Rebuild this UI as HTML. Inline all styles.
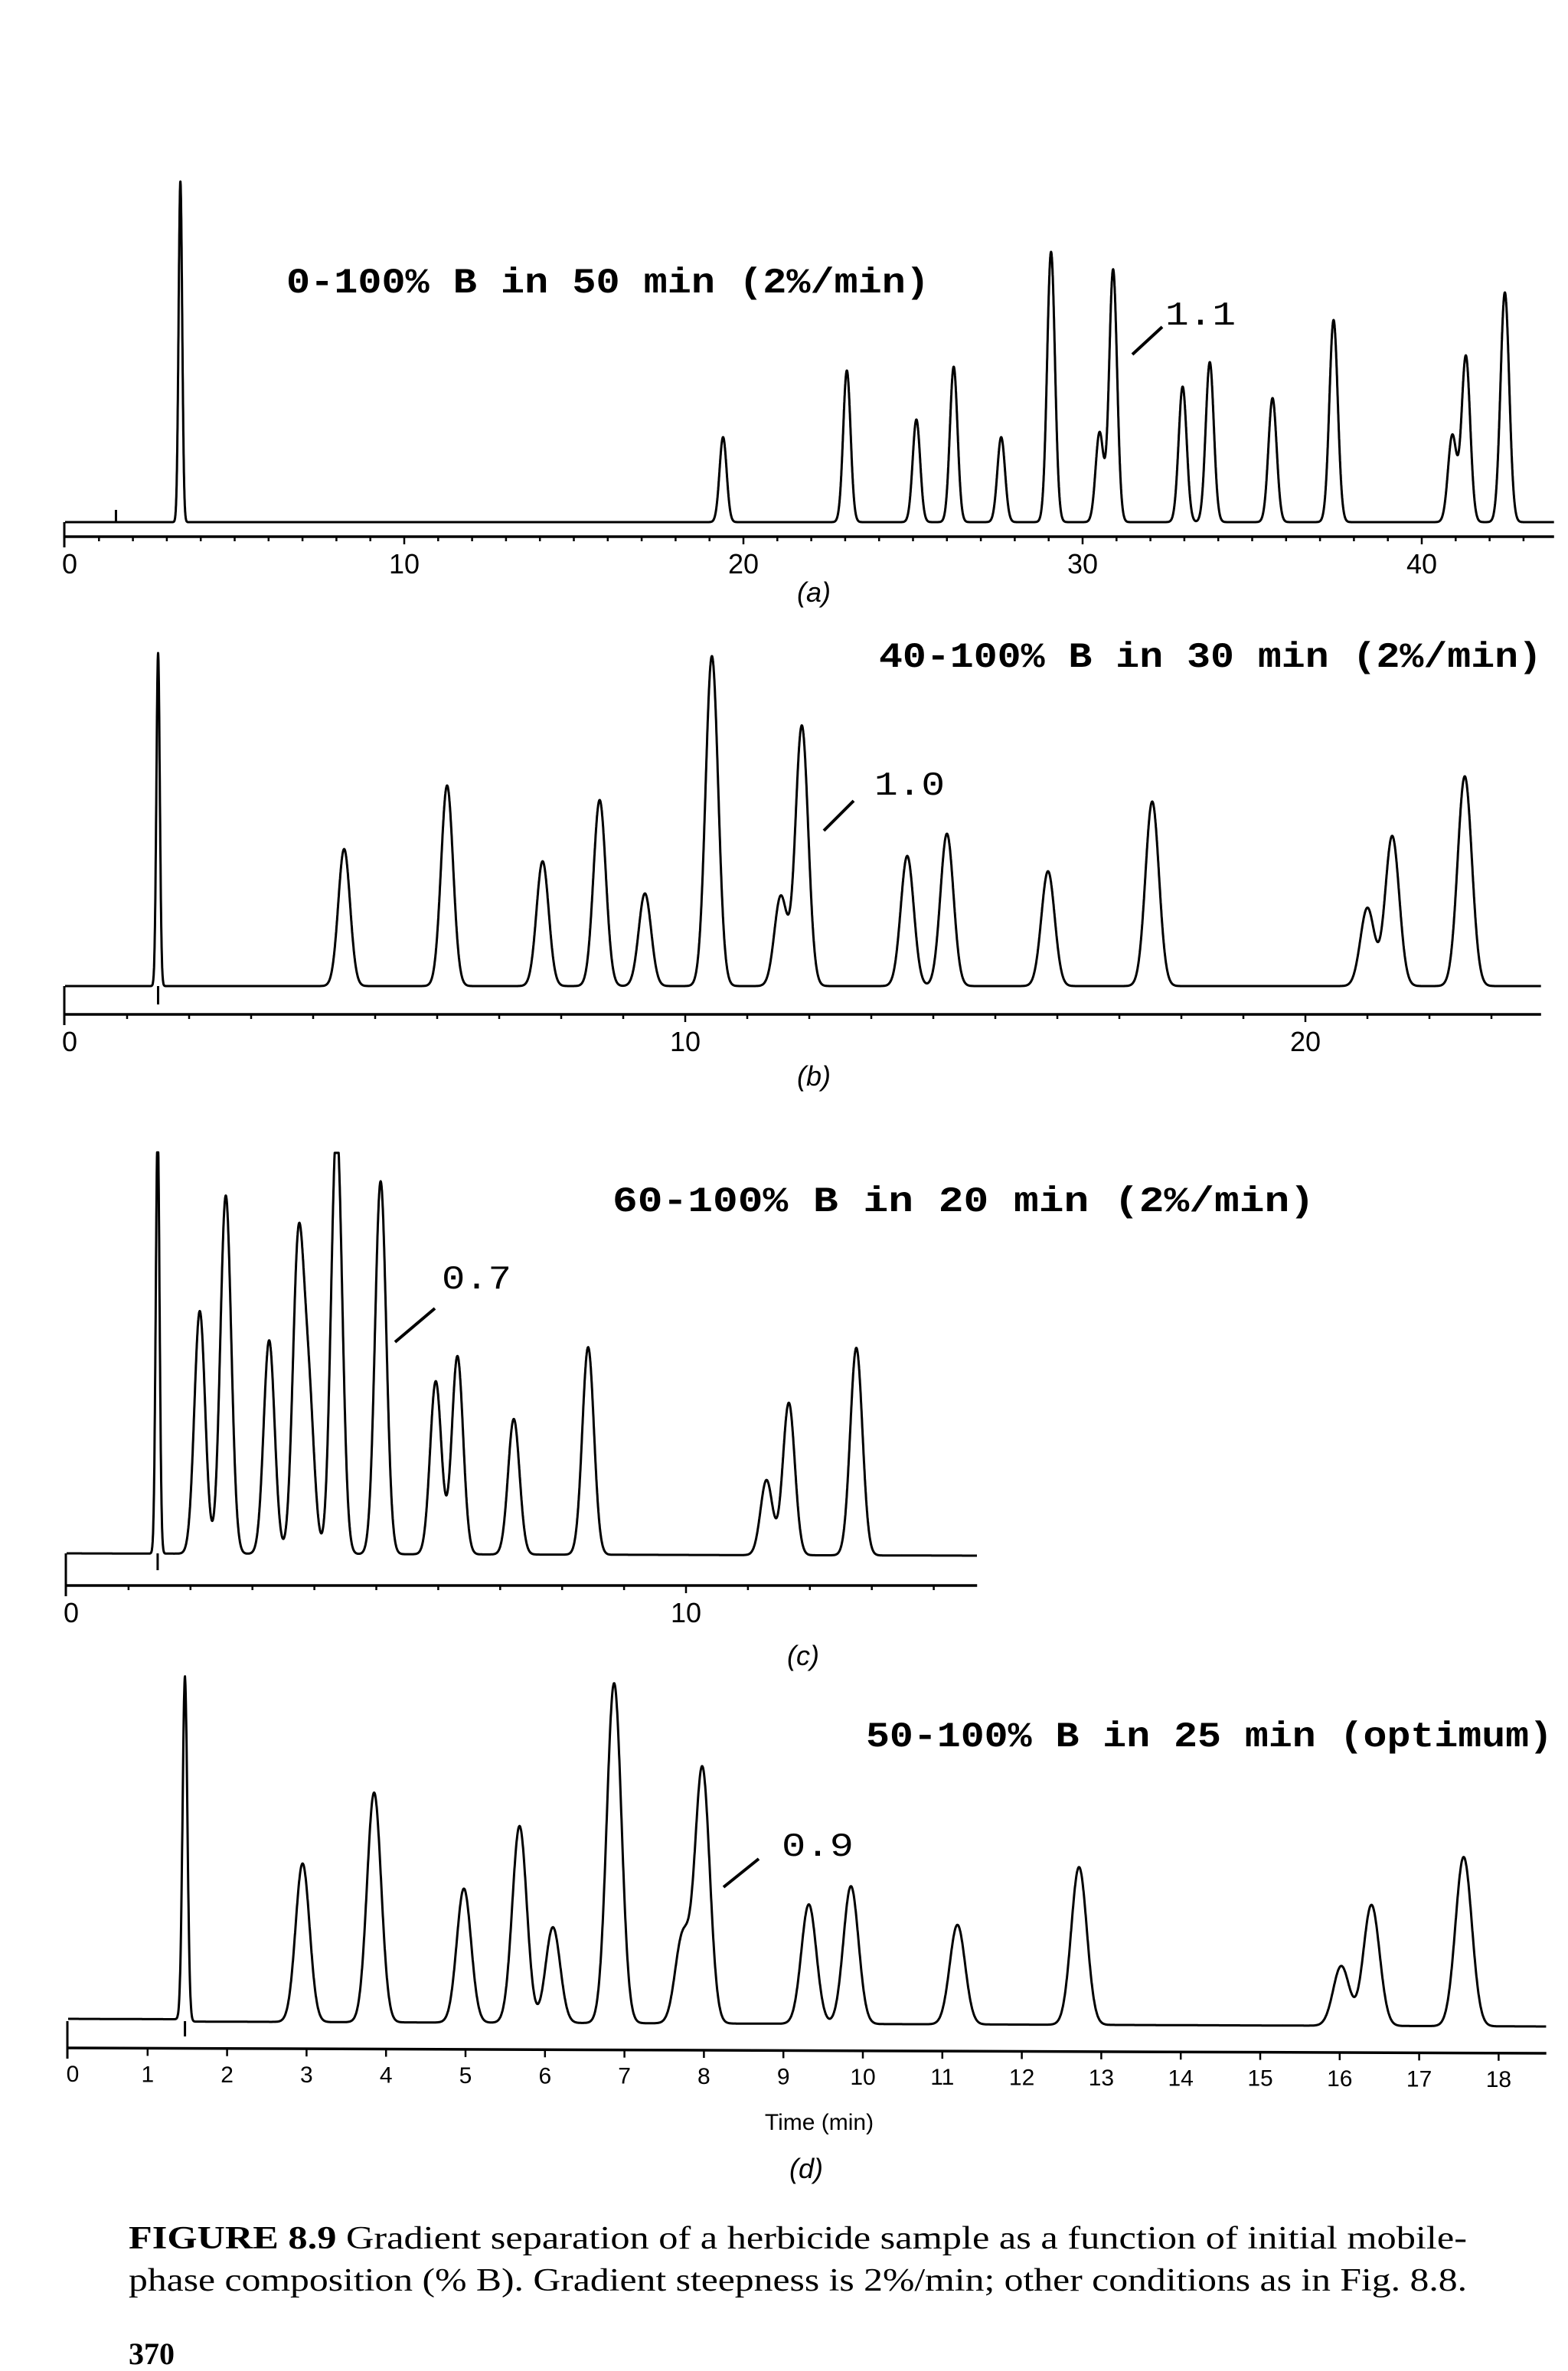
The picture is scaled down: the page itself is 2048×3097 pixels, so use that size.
<!DOCTYPE html>
<html><head><meta charset="utf-8">
<style>
html,body{margin:0;padding:0;background:#fff;}
svg{display:block;}
.ttl{font-family:"Liberation Mono",monospace;font-weight:bold;}
.tick{font-family:"Liberation Sans",sans-serif;}
.cap{font-family:"Liberation Serif",serif;}
</style></head>
<body>
<svg id="fig" width="2048" height="3097" viewBox="0 0 2048 3097" xmlns="http://www.w3.org/2000/svg">
<g id="texts" fill="#000">
<text class="ttl" x="374" y="382" font-size="46" textLength="840" lengthAdjust="spacingAndGlyphs">0-100% B in 50 min (2%/min)</text>
<text x="1522" y="424" font-size="44" font-family="Liberation Mono, monospace" textLength="92" lengthAdjust="spacingAndGlyphs">1.1</text>
<line x1="1518" y1="427" x2="1479" y2="463" stroke="#000" stroke-width="4"/>
<text class="tick" x="1063" y="786" font-size="36" font-style="italic" text-anchor="middle">(a)</text>

<text class="ttl" x="1148" y="871" font-size="46" textLength="866" lengthAdjust="spacingAndGlyphs">40-100% B in 30 min (2%/min)</text>
<text x="1142" y="1038" font-size="44" font-family="Liberation Mono, monospace" textLength="92" lengthAdjust="spacingAndGlyphs">1.0</text>
<line x1="1115" y1="1046" x2="1076" y2="1085" stroke="#000" stroke-width="4"/>
<text class="tick" x="1063" y="1418" font-size="36" font-style="italic" text-anchor="middle">(b)</text>

<text class="ttl" x="800" y="1582" font-size="46" textLength="917" lengthAdjust="spacingAndGlyphs">60-100% B in 20 min (2%/min)</text>
<text x="577" y="1683" font-size="44" font-family="Liberation Mono, monospace" textLength="91" lengthAdjust="spacingAndGlyphs">0.7</text>
<line x1="568" y1="1709" x2="516" y2="1753" stroke="#000" stroke-width="4"/>
<text class="tick" x="1049" y="2175" font-size="36" font-style="italic" text-anchor="middle">(c)</text>

<text class="ttl" x="1131" y="2281" font-size="46" textLength="897" lengthAdjust="spacingAndGlyphs">50-100% B in 25 min (optimum)</text>
<text x="1021" y="2424" font-size="44" font-family="Liberation Mono, monospace" textLength="94" lengthAdjust="spacingAndGlyphs">0.9</text>
<line x1="991" y1="2428" x2="945" y2="2465" stroke="#000" stroke-width="4"/>
<text class="tick" x="1070" y="2782" font-size="30" text-anchor="middle">Time (min)</text>
<text class="tick" x="1053" y="2845" font-size="36" font-style="italic" text-anchor="middle">(d)</text>

<text class="cap" x="168" y="2937" font-size="42" textLength="1748" lengthAdjust="spacingAndGlyphs"><tspan font-weight="bold">FIGURE 8.9</tspan>   Gradient separation of a herbicide sample as a function of initial mobile-</text>
<text class="cap" x="168" y="2992" font-size="42" textLength="1748" lengthAdjust="spacingAndGlyphs">phase composition (% B). Gradient steepness is 2%/min; other conditions as in Fig. 8.8.</text>
<text class="cap" x="168" y="3088" font-size="40" font-weight="bold">370</text>
</g>
</svg>
<script>
// Panel (a) data
const timesA = [3.4,19.4,23.05,25.1,26.2,27.6,29.07,30.5,30.9,32.95,33.75,35.6,37.4,40.9,41.3,42.45];
const heightsA = [445,111,198,134,203,111,353,117,330,177,209,162,264,113,217,300];
const ticksA = ['0','10','20','30','40'];
// Panel (b) data
const timesB = [1.5,4.5,6.16,7.7,8.62,9.35,10.43,11.54,11.88,13.58,14.22,15.85,17.53,21.0,21.4,22.57];
const heightsB = [435,179,262,163,243,121,431,117,340,170,199,150,241,102,196,274];
const ticksB = ['0','10','20'];
// Panel (c) data
const timesC = [1.47,2.15,2.57,3.27,3.74,3.91,4.36,5.07,5.96,6.31,7.22,8.42,11.3,11.66,12.75];
const heightsC = [560,317,468,279,395,196,560,487,226,259,177,271,98,199,271];
const ticksC = ['0','10'];
// Panel (d) data
const timesD = [1.47,2.95,3.85,4.98,5.68,6.1,6.87,7.73,7.98,9.32,9.85,11.19,12.72,16.02,16.4,17.56];
const heightsD = [448,207,300,175,257,125,444,112,333,156,180,130,206,78,158,221];
const ticksD = ['0','1','2','3','4','5','6','7','8','9','10','11','12','13','14','15','16','17','18'];

const NS='http://www.w3.org/2000/svg';
const svg=document.getElementById('fig');
function mk(tag,attrs,parent){const e=document.createElementNS(NS,tag);for(const k in attrs)e.setAttribute(k,attrs[k]);(parent||svg).appendChild(e);return e;}

const panels=[
 {id:'a',times:timesA,heights:heightsA,ticks:ticksA,tickStep:10,x0:85,ppm:44.3,tEnd:43.9,base:682,axisY:701,sig:0.085,firstSig:0.6,clip:470,inj:1.5,injDepth:-16,pre:null,drift:0},
 {id:'b',times:timesB,heights:heightsB,ticks:ticksB,tickStep:10,x0:85,ppm:81,tEnd:23.8,base:1288,axisY:1325,sig:0.09,firstSig:0.3,clip:470,inj:1.5,injDepth:24,pre:null,drift:0},
 {id:'c',times:timesC,heights:heightsC,ticks:ticksC,tickStep:10,x0:87,ppm:80.9,tEnd:14.7,base:2029,axisY:2071,sig:0.085,firstSig:0.35,clip:524,inj:1.47,injDepth:22,pre:null,drift:3},
 {id:'d',times:timesD,heights:heightsD,ticks:ticksD,tickStep:1,x0:89,ppm:103.8,tEnd:18.6,base:2640,axisY:2675,sig:0.085,firstSig:0.35,clip:470,inj:1.47,injDepth:20,pre:-3,drift:7}
];

panels.forEach(p=>{
 const g=mk('g',{});
 
 
 const X=t=>p.x0+t*p.ppm;
 const baseAt=t=>p.base+p.drift*t/p.tEnd+(p.pre!==null&&t<p.inj?p.pre:0);
 let d='';
 const step=0.003;
 for(let t=0;t<=p.tEnd;t+=step){
   let s=0;
   for(let i=0;i<p.times.length;i++){
     const sg=p.sig*(1+0.012*p.times[i])*(i===0?p.firstSig:1);
     const z=(t-p.times[i])/sg;
     if(Math.abs(z)<8)s+=p.heights[i]*Math.exp(-0.5*z*z);
   }
   s=Math.min(s,p.clip);
   d+=(d?'L':'M')+X(t).toFixed(1)+' '+(baseAt(t)-s).toFixed(1);
 }
 const trace=mk('path',{d:d,fill:'none',stroke:'#000','stroke-width':3,'stroke-linejoin':'round'},g);
 
 
 const inj=mk('line',{x1:X(p.inj),y1:p.base,x2:X(p.inj),y2:p.base+p.injDepth,stroke:'#000','stroke-width':3},g);
 
 
 const ax=mk('line',{x1:X(0),y1:p.axisY,x2:X(p.tEnd),y2:p.axisY+(p.id==='d'?7:0),stroke:'#000','stroke-width':3.5},g);
 
 
 const lv=mk('line',{x1:X(0)-1,y1:p.base,x2:X(0)-1,y2:p.axisY+14,stroke:'#000','stroke-width':3},g);
 
 
 for(let m=1;m<=Math.floor(p.tEnd);m++){
   const major=(p.id==='d')||(m%10===0);
   const yA=p.axisY+(p.id==='d'?7*m/p.tEnd:0);
   const tk=mk('line',{x1:X(m),y1:yA,x2:X(m),y2:yA+(major?10:6),stroke:'#000','stroke-width':2.5},g);
   
   
 }
 p.ticks.forEach((lab,i)=>{
   const v=i*p.tickStep;
   const tx=mk('text',{x:X(v)+(v===0?6:0),y:p.axisY+(p.id==='d'?44+7*v/p.tEnd:48),'font-size':p.id==='d'?30:36,'text-anchor':'middle','class':'tick'},g);
   
   
   tx.textContent=lab;
 });
});
</script>
</body></html>
